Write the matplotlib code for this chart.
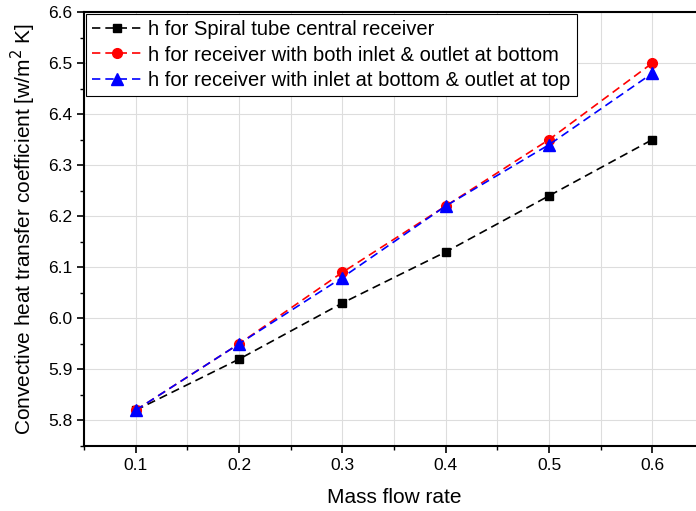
import matplotlib
matplotlib.use("Agg")
import matplotlib.pyplot as plt
from matplotlib.ticker import MultipleLocator

plt.rcParams['font.family'] = ['Liberation Sans', 'DejaVu Sans']

mass_flow = [0.1, 0.2, 0.3, 0.4, 0.5, 0.6]
h_spiral = [5.82, 5.92, 6.03, 6.13, 6.24, 6.35]
h_both_bottom = [5.82, 5.95, 6.09, 6.22, 6.35, 6.50]
h_bottom_top = [5.82, 5.95, 6.08, 6.22, 6.34, 6.48]

labels = ["h for Spiral tube central receiver",
          "h for receiver with both inlet & outlet at bottom",
          "h for receiver with inlet at bottom & outlet at top"]

fig = plt.figure(figsize=(6.96, 5.11), dpi=100)
ax = fig.add_axes([84/696, 65/511, 620/696, 434/511])

ax.plot(mass_flow, h_spiral, ls='--', color='black', marker='s', ms=6, lw=1.2, dashes=(5, 3), label=labels[0])
ax.plot(mass_flow, h_both_bottom, ls='--', color='red', marker='o', ms=7, lw=1.2, dashes=(5, 3), label=labels[1])
ax.plot(mass_flow, h_bottom_top, ls='--', color='blue', marker='^', ms=8, lw=1.2, dashes=(5, 3), label=labels[2])

ax.set_xlim(0.05, 0.65)
ax.set_ylim(5.75, 6.6)
ax.xaxis.set_major_locator(MultipleLocator(0.1))
ax.xaxis.set_minor_locator(MultipleLocator(0.05))
ax.yaxis.set_major_locator(MultipleLocator(0.1))
ax.yaxis.set_minor_locator(MultipleLocator(0.05))
ax.grid(True, which='major', color='#dddddd', lw=0.8)
ax.grid(True, which='minor', axis='x', color='#dddddd', lw=0.8)
ax.set_axisbelow(True)

ax.tick_params(which='major', direction='out', length=5, width=1.2, labelsize=12.5)
ax.tick_params(which='minor', direction='out', length=3, width=1.0)
for s in ax.spines.values():
    s.set_linewidth(1.5)

ax.set_xlabel("Mass flow rate", fontsize=15, labelpad=11)
ax.set_ylabel("Convective heat transfer coefficient [w/m$^2$ K]", fontsize=15, labelpad=7)

leg = ax.legend(loc='upper left', fontsize=14.5, frameon=True, fancybox=False,
                edgecolor='black', framealpha=1, borderaxespad=0.1,
                handlelength=2.5, labelspacing=0.32, borderpad=0.3, handletextpad=0.3)
leg.get_frame().set_linewidth(0.8)

fig.savefig("out.png", dpi=100)
